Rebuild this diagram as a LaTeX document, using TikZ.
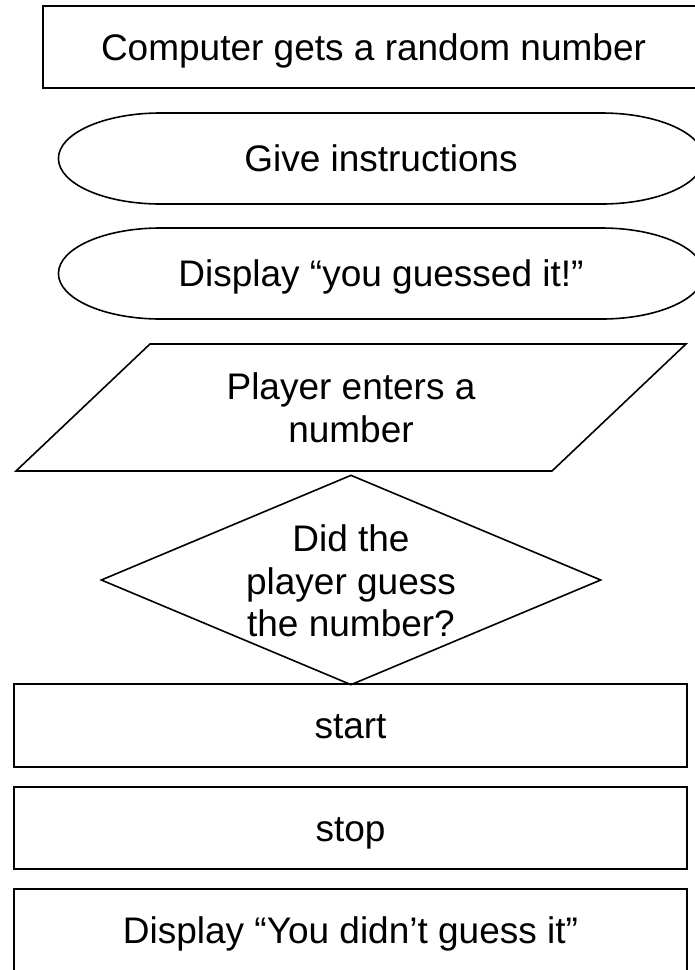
\documentclass[tikz,border=0pt]{standalone}
\usepackage{fontspec}
\setmainfont{Liberation Sans}
\usetikzlibrary{shapes.geometric, shapes.misc}

\begin{document}
\begin{tikzpicture}[x=1pt, y=-1pt,
  every node/.style={font=\fontsize{37}{42.5}\selectfont},
  fbox/.style={rectangle, draw, line width=1.6pt, minimum height=82pt,
               inner sep=0pt, text height=26.5pt, text depth=0pt},
  term/.style={rounded rectangle, draw, line width=1.6pt, minimum width=288pt,
               minimum height=91pt, inner sep=0pt, xscale=2.24},
  io/.style={rectangle, draw, line width=1.6pt, minimum width=536pt,
             minimum height=127pt, inner sep=0pt, xslant=1.055},
  decide/.style={diamond, draw, line width=1.6pt, minimum width=500pt,
                 minimum height=210pt, inner sep=0pt},
  txt/.style={align=center, inner sep=0pt}
]
\useasboundingbox (0,0) rectangle (695,970);

% random number
\node[fbox, minimum width=661pt] (rand) at (373.5,47) {Computer gets a random number};

% instructions and win message
\node[term] (instr) at (381,158.5) {};
\node[txt, text height=26.5pt, text depth=0pt] (instrT) at (381,158.5) {Give instructions};
\node[term] (win) at (381,273.5) {};
\node[txt, text height=26.5pt, text depth=0pt] (winT) at (381,273.5) {Display “you guessed it!”};

% input
\node[io] (input) at (351,407.5) {};
\node[txt] (inputT) at (351,408) {Player enters a\\number};

% decision
\node[decide] (check) at (351,580) {};
\node[txt] (checkT) at (351,581) {Did the\\player guess\\the number?};

% start / stop / lose message
\node[fbox, minimum width=673pt, minimum height=83pt] (start) at (350.5,725.5) {start};
\node[fbox, minimum width=673pt] (stop) at (350.5,828) {stop};
\node[fbox, minimum width=673pt] (lose) at (350.5,930) {Display “You didn’t guess it”};
\end{tikzpicture}
\end{document}
